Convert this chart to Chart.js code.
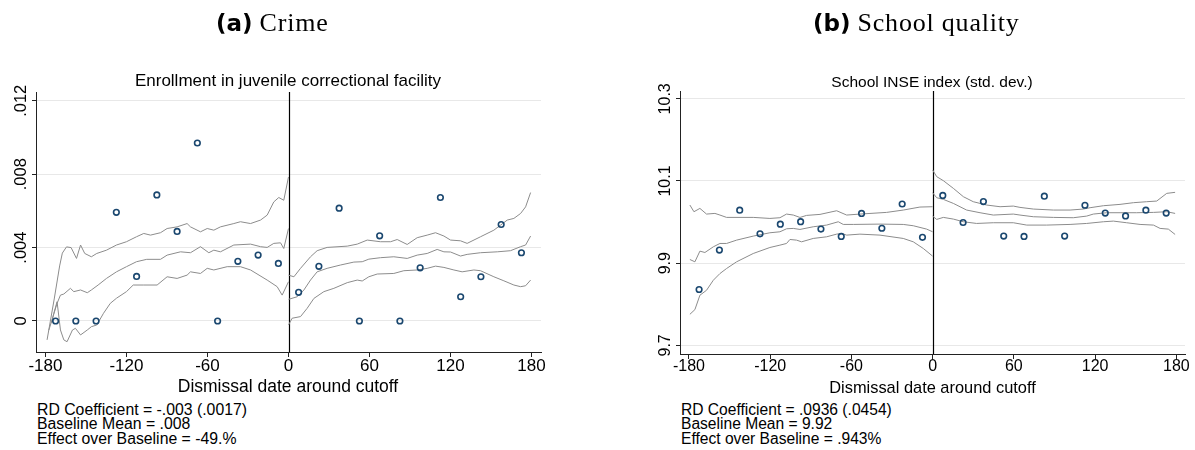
<!DOCTYPE html>
<html><head><meta charset="utf-8">
<script src="https://cdn.jsdelivr.net/npm/chart.js@4.4.1/dist/chart.umd.min.js"></script>
<style>
html,body{margin:0;padding:0;background:#fff;width:1195px;height:450px;overflow:hidden;position:relative}
.t{position:absolute;font-family:'Liberation Sans',Arial,sans-serif;color:#000;white-space:nowrap}
.c{transform:translateX(-50%)}
.pt{position:absolute;font-family:'Liberation Serif','Times New Roman',serif;font-size:26px;line-height:26px;letter-spacing:0.8px;color:#000;white-space:nowrap}
.pt b{font-family:'DejaVu Sans',sans-serif;font-size:23px;letter-spacing:0;margin-right:7px}
canvas{position:absolute;top:0}
</style></head><body>
<canvas id="ca" width="560" height="400" style="left:0"></canvas>
<canvas id="cb" width="575" height="400" style="left:620px"></canvas>

<div class="pt" style="left:216px;top:10px"><b>(a)</b>Crime</div>
<div class="pt" style="left:813px;top:10px"><b>(b)</b>School quality</div>
<div class="t c" style="left:288px;top:72px;font-size:17px;line-height:17px">Enrollment in juvenile correctional facility</div>
<div class="t c" style="left:932px;top:73.5px;font-size:15.5px;line-height:15.5px">School INSE index (std. dev.)</div>
<div class="t c" style="left:288px;top:378px;font-size:17.5px;line-height:17.5px">Dismissal date around cutoff</div>
<div class="t c" style="left:932.5px;top:379px;font-size:16.4px;line-height:16.4px">Dismissal date around cutoff</div>
<div class="t" style="left:37px;top:402.5px;font-size:15.8px;line-height:14.8px">RD Coefficient = -.003 (.0017)<br>Baseline Mean = .008<br>Effect over Baseline = -49.%</div>
<div class="t" style="left:681px;top:402.5px;font-size:15.6px;line-height:14.8px">RD Coefficient = .0936 (.0454)<br>Baseline Mean = 9.92<br>Effect over Baseline = .943%</div>

<script>
// ---------- DATA ----------
const xTicks = [-180, -120, -60, 0, 60, 120, 180];
const binDaysL = [-172.5, -157.5, -142.5, -127.5, -112.5, -97.5, -82.5, -67.5, -52.5, -37.5, -22.5, -7.5];
const binDaysR = [7.5, 22.5, 37.5, 52.5, 67.5, 82.5, 97.5, 112.5, 127.5, 142.5, 157.5, 172.5];

// Panel (a) Crime
const crimeYTicks = [0, 0.004, 0.008, 0.012];
const crimeYLabels = ['0', '.004', '.008', '.012'];
const crimeMeansL = [0, 0, 0, 0.00592, 0.00243, 0.00687, 0.00488, 0.0097, 0, 0.00325, 0.00359, 0.00314];
const crimeMeansR = [0.00156, 0.00298, 0.00615, 0, 0.00464, 0, 0.0029, 0.00673, 0.00132, 0.00241, 0.00526, 0.00372];
const crimeUpperL = [[-178.8,-0.00103],[-173.5,0.0012],[-169.5,0.0030],[-167.5,0.0037],[-164.4,0.00404],[-161,0.0040],[-157,0.00341],[-154,0.00414],[-150.9,0.00368],[-146,0.0035],[-142,0.00368],[-134.8,0.00386],[-127.4,0.00414],[-120,0.00432],[-112.6,0.00459],[-107.2,0.00477],[-102.2,0.00468],[-94.8,0.00481],[-89.9,0.00504],[-82.5,0.00513],[-75.1,0.00531],[-72.6,0.00513],[-65.2,0.00486],[-60.2,0.00504],[-55.3,0.00495],[-50.4,0.00513],[-40.5,0.00531],[-35.6,0.00541],[-28.1,0.00531],[-20.7,0.0055],[-15.8,0.00577],[-10.9,0.00649],[-7.2,0.00673],[-3.5,0.00658],[0,0.00785]];
const crimeFitL = [[-177.5,-0.0005],[-176.3,-0.00022],[-171.4,0.00096],[-168.9,0.00141],[-166.4,0.00147],[-161.5,0.00178],[-159,0.0016],[-154,0.00169],[-149,0.00154],[-146,0.00169],[-141,0.00196],[-134.8,0.00232],[-127.4,0.00268],[-120,0.00296],[-112.6,0.00323],[-105,0.00336],[-94.8,0.00336],[-89.9,0.00359],[-80,0.00377],[-72.6,0.00372],[-65.2,0.00405],[-59,0.00372],[-55.3,0.00386],[-50.4,0.00377],[-40.5,0.00414],[-28.1,0.00419],[-20.7,0.00405],[-15.8,0.00401],[-10.9,0.00423],[-5.9,0.00426],[-3.5,0.00395],[0,0.00504]];
const crimeLowerL = [[-175.5,-0.0001],[-173.8,0.00042],[-171.4,0.00105],[-168.9,-0.00049],[-166.4,-0.00103],[-164,-0.00113],[-160,-0.00049],[-157.8,-0.0004],[-154,-0.00076],[-149,-0.00049],[-146,-0.00031],[-142,-0.00022],[-137,0.00042],[-132,0.00096],[-127.4,0.00124],[-120,0.0016],[-115,0.00196],[-107.2,0.00196],[-97.3,0.00196],[-89.9,0.00241],[-82.5,0.00232],[-75.1,0.0025],[-72.6,0.00268],[-65.2,0.00259],[-60.2,0.00287],[-55.3,0.00278],[-45.4,0.00296],[-35.6,0.00296],[-28.1,0.00278],[-15.8,0.00223],[-8.4,0.00187],[-4.7,0.00141],[0,0.00214]];
const crimeUpperR = [[0,0.0025],[4,0.00241],[8.9,0.00287],[16.3,0.0035],[21.2,0.00383],[28.6,0.00401],[43.5,0.00408],[50.9,0.00419],[58.3,0.00441],[68.1,0.00432],[75.6,0.00432],[80.5,0.00444],[87.9,0.00417],[95.3,0.00454],[102.7,0.00468],[108.9,0.00481],[115.1,0.00463],[120,0.00441],[127.4,0.00437],[132.3,0.00423],[142.2,0.00459],[152.1,0.00495],[157,0.00522],[162,0.0055],[166.9,0.00559],[171.9,0.00586],[175.6,0.00622],[179.3,0.007]];
const crimeFitR = [[0,0.00118],[6.4,0.00132],[11.4,0.00169],[16.3,0.00223],[21.2,0.00268],[28.6,0.00287],[38.5,0.00305],[48.4,0.00321],[54.6,0.00323],[59.5,0.00337],[68.1,0.00345],[78,0.0035],[87.9,0.00341],[95.3,0.00359],[102.7,0.00368],[110.1,0.0039],[115.1,0.00377],[120,0.00376],[127.4,0.00354],[132.3,0.00363],[142.2,0.00372],[154.6,0.00377],[164.4,0.00383],[171.9,0.00405],[175.6,0.00414],[179.3,0.00463]];
const crimeLowerR = [[0,-0.00022],[2.7,0.00015],[8.9,0.00024],[13.8,0.00069],[18.8,0.00123],[26.2,0.0016],[33.6,0.00178],[43.5,0.00209],[50.9,0.00223],[54.6,0.00218],[59.5,0.00241],[65.7,0.00256],[78,0.00259],[85.4,0.00274],[95.3,0.00278],[102.7,0.00287],[108.9,0.00299],[115.1,0.00292],[122.5,0.00278],[128.6,0.00268],[137.3,0.00278],[142.2,0.00274],[152.1,0.00241],[159.5,0.00219],[166.9,0.00196],[171.9,0.00187],[175.6,0.00192],[179.3,0.00223]];

// Panel (b) School quality
const schoolYTicks = [9.7, 9.9, 10.1, 10.3];
const schoolYLabels = ['9.7', '9.9', '10.1', '10.3'];
const schoolMeansL = [9.836, 9.932, 10.029, 9.9715, 9.995, 10.001, 9.983, 9.965, 10.021, 9.985, 10.044, 9.963];
const schoolMeansR = [10.065, 9.999, 10.050, 9.966, 9.965, 10.063, 9.966, 10.041, 10.022, 10.015, 10.029, 10.022];
const schoolUpperL = [[-179.3,10.0415],[-176.3,10.0252],[-171.9,10.0333],[-167,10.0195],[-160.8,10.0211],[-157.1,10.0171],[-152.2,10.0114],[-132.5,10.0114],[-120.2,10.0089],[-112.8,10.0106],[-107.9,10.0195],[-102.9,10.0171],[-98,10.0113],[-93.1,10.0163],[-83.2,10.0187],[-70.9,10.0276],[-63.5,10.0171],[-53.7,10.0195],[-34,10.0236],[-21.7,10.0293],[-9.4,10.0366],[0,10.0374]];
const schoolFitL = [[-179.3,9.909],[-175.6,9.9033],[-171.9,9.9293],[-168.2,9.926],[-162,9.9398],[-157.1,9.948],[-152.2,9.948],[-144.8,9.9561],[-132.5,9.9659],[-120.2,9.974],[-112.8,9.9764],[-107.9,9.9837],[-102.9,9.9846],[-98,9.9821],[-88.2,9.9886],[-78.3,9.9927],[-69.7,10.0008],[-66,9.9943],[-58.6,9.9943],[-38.9,9.9951],[-21.7,9.9943],[-14.3,9.9911],[-4.4,9.9829],[0,9.9764]];
const schoolLowerL = [[-179.3,9.7756],[-175.6,9.787],[-171.9,9.822],[-167,9.8341],[-162,9.8585],[-157.1,9.8748],[-152.2,9.887],[-144.8,9.9033],[-132.5,9.9236],[-120.2,9.9382],[-112.8,9.9439],[-107.9,9.948],[-105.4,9.9577],[-100.5,9.9561],[-96.8,9.952],[-88.2,9.9602],[-78.3,9.9642],[-70.9,9.9707],[-67.2,9.9724],[-63.5,9.9683],[-53.7,9.9707],[-38.9,9.9683],[-21.7,9.9602],[-14.3,9.952],[-6.9,9.9358],[0,9.9171]];
const schoolUpperR = [[0,10.1268],[3,10.1106],[7.9,10.1008],[15.3,10.0821],[22.7,10.0618],[30,10.0496],[39.9,10.0415],[49.8,10.0374],[59.6,10.039],[64.5,10.0358],[74.4,10.0317],[89.2,10.0293],[101.5,10.0293],[111.3,10.0317],[116.3,10.035],[126.1,10.0398],[138.4,10.0431],[148.3,10.0472],[158.1,10.0496],[165.5,10.0512],[172.9,10.0699],[179.1,10.0724]];
const schoolFitR = [[0,10.0715],[3,10.0593],[7.9,10.0553],[15.3,10.0455],[25.1,10.0293],[35,10.0228],[44.8,10.0171],[59.6,10.0195],[64.5,10.0171],[74.4,10.013],[89.2,10.0114],[103.9,10.0106],[113.8,10.0146],[118.7,10.0195],[128.6,10.0228],[138.4,10.0228],[150.7,10.0228],[163.1,10.0236],[172.9,10.0252],[179.1,10.0211]];
const schoolLowerR = [[0,10.0146],[3,10.0065],[7.9,10.0114],[15.3,10.0073],[22.7,10.0008],[32.5,9.9967],[44.8,9.9984],[59.6,9.9984],[69.5,9.9927],[84.2,9.9927],[101.5,9.9943],[113.8,9.9967],[126.1,10.0008],[133.5,10.0024],[143.3,9.9984],[153.2,9.9943],[163.1,9.9927],[168,9.9846],[174.1,9.9829],[179.1,9.9699]];

// ---------- CHARTS ----------
const FONT = "'Liberation Sans', Arial, sans-serif";
const pts = (xs, ys) => xs.map((x, i) => ({x, y: ys[i]}));
const pairs = arr => arr.map(p => ({x: p[0], y: p[1]}));

const stataPlugin = {
  id: 'stata',
  beforeDatasetsDraw(chart) {
    const {ctx, chartArea: a, scales: {x}} = chart;
    const x0 = Math.round(x.getPixelForValue(0)) + 0.5;
    ctx.save();
    ctx.strokeStyle = '#000'; ctx.lineWidth = 1.2;
    ctx.beginPath(); ctx.moveTo(x0, a.top); ctx.lineTo(x0, a.bottom); ctx.stroke();
    ctx.restore();
  },
  afterDraw(chart, args, opts) {
    const {ctx, chartArea: a, scales: {y}} = chart;
    ctx.save();
    ctx.fillStyle = '#000';
    ctx.font = opts.size + 'px ' + FONT;
    ctx.textAlign = 'center'; ctx.textBaseline = 'alphabetic';
    opts.ticks.forEach((v, i) => {
      ctx.save();
      ctx.translate(a.left - opts.gap, y.getPixelForValue(v));
      ctx.rotate(-Math.PI / 2);
      ctx.fillText(opts.labels[i], 0, 0);
      ctx.restore();
    });
    ctx.restore();
  }
};

function lineDs(data) {
  return {type: 'line', data: pairs(data), showLine: true, borderColor: '#8c8c8c', borderWidth: 1,
          pointRadius: 0, fill: false, tension: 0};
}
function pointDs(data) {
  return {type: 'scatter', data, pointRadius: 2.8, pointBorderWidth: 1.6, pointStyle: 'circle',
          borderColor: '#1a476f', backgroundColor: 'rgba(255,255,255,0)', pointBackgroundColor: 'rgba(255,255,255,0)'};
}

function makeChart(id, cfg) {
  return new Chart(document.getElementById(id), {
    type: 'scatter',
    data: {datasets: [
      pointDs(pts(binDaysL, cfg.meansL)), pointDs(pts(binDaysR, cfg.meansR)),
      lineDs(cfg.upL), lineDs(cfg.fitL), lineDs(cfg.loL),
      lineDs(cfg.upR), lineDs(cfg.fitR), lineDs(cfg.loR)
    ]},
    options: {
      responsive: false, animation: false, devicePixelRatio: 1,
      layout: {padding: cfg.padding},
      plugins: {legend: {display: false}, tooltip: {enabled: false}, title: {display: false},
                stata: {ticks: cfg.yTicks, labels: cfg.yLabels, gap: 10, size: cfg.yFont}},
      scales: {
        x: {type: 'linear', min: cfg.xMin, max: cfg.xMax,
            afterBuildTicks: s => { s.ticks = xTicks.map(v => ({value: v})); },
            afterFit: s => { s.height = cfg.xHeight; },
            grid: {drawOnChartArea: false, drawTicks: true, tickLength: 5, tickColor: '#222', lineWidth: 1},
            border: {display: true, color: '#222', width: 1},
            ticks: {font: {family: FONT, size: cfg.xFont}, color: '#000', padding: cfg.xPad, autoSkip: false,
                    maxRotation: 0, minRotation: 0, callback: v => String(v)}},
        y: {type: 'linear', min: cfg.yMin, max: cfg.yMax,
            afterBuildTicks: s => { s.ticks = cfg.yTicks.map(v => ({value: v})); },
            afterFit: s => { s.width = cfg.yWidth; },
            grid: {color: '#e8e8e8', lineWidth: 1, drawTicks: true, tickLength: 4, tickColor: '#222'},
            border: {display: true, color: '#222', width: 1},
            ticks: {display: false}}
      }
    },
    plugins: [stataPlugin]
  });
}

makeChart('ca', {
  meansL: crimeMeansL, meansR: crimeMeansR,
  upL: crimeUpperL, fitL: crimeFitL, loL: crimeLowerL,
  upR: crimeUpperR, fitR: crimeFitR, loR: crimeLowerR,
  yTicks: crimeYTicks, yLabels: crimeYLabels,
  xMin: -187, xMax: 187, yMin: -0.00169, yMax: 0.01248,
  padding: {left: 0, top: 92, right: 19, bottom: 0}, xHeight: 48, yWidth: 36,
  xFont: 17, xPad: -1, yFont: 16.5
});
makeChart('cb', {
  meansL: schoolMeansL, meansR: schoolMeansR,
  upL: schoolUpperL, fitL: schoolFitL, loL: schoolLowerL,
  upR: schoolUpperR, fitR: schoolFitR, loR: schoolLowerR,
  yTicks: schoolYTicks, yLabels: schoolYLabels,
  xMin: -186.6, xMax: 186.4, yMin: 9.679, yMax: 10.319,
  padding: {left: 0, top: 91, right: 10, bottom: 0}, xHeight: 46, yWidth: 60,
  xFont: 16, xPad: -2, yFont: 16
});
</script>
</body></html>
